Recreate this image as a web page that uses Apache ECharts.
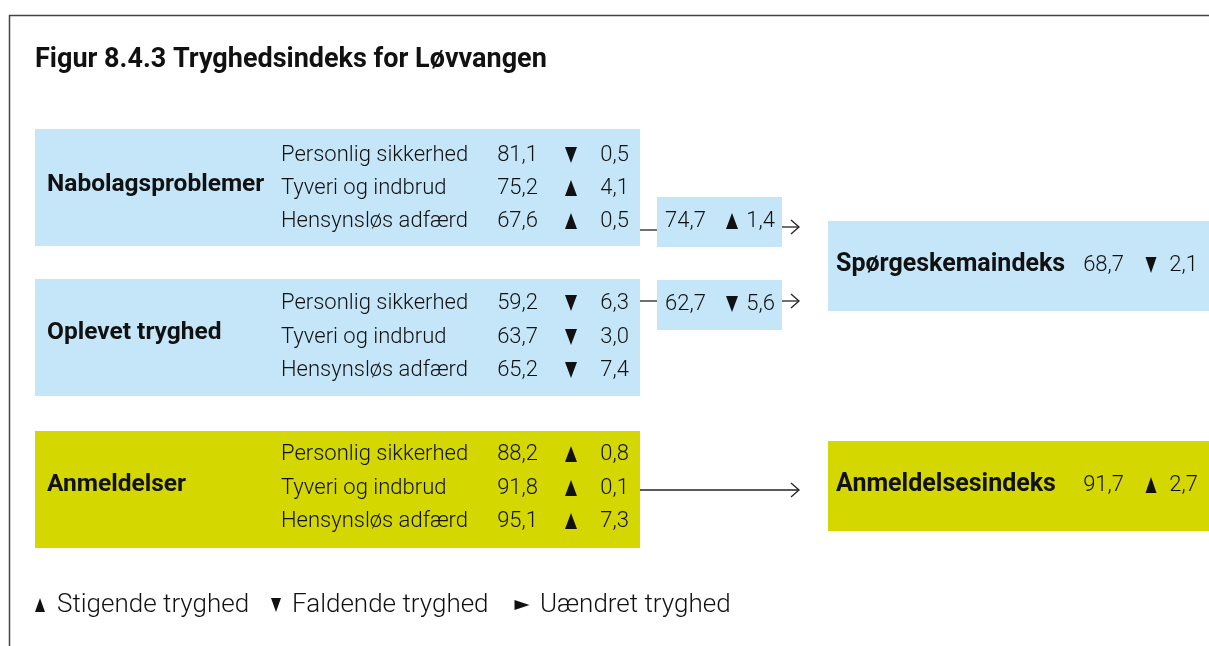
<!DOCTYPE html>
<html>
<head>
<meta charset="utf-8">
<script src="https://cdn.jsdelivr.net/npm/echarts@6/dist/echarts.min.js"></script>
<style>
  html, body { margin: 0; padding: 0; background: #fff; }
  #chart { width: 1209px; height: 646px; }
</style>
</head>
<body>
<div id="chart"></div>
<script>
// data
const title = 'Figur 8.4.3 Tryghedsindeks for Løvvangen';
const groups = ['Nabolagsproblemer', 'Oplevet tryghed', 'Anmeldelser'];
const items = ['Personlig sikkerhed', 'Tyveri og indbrud', 'Hensynsløs adfærd'];
const itemValues = [[81.1, 75.2, 67.6], [59.2, 63.7, 65.2], [88.2, 91.8, 95.1]];
const itemChanges = [[-0.5, 4.1, 0.5], [-6.3, -3.0, -7.4], [0.8, 0.1, 7.3]];
const subValues = [74.7, 62.7];
const subChanges = [1.4, -5.6];
const indexNames = ['Spørgeskemaindeks', 'Anmeldelsesindeks'];
const indexValues = [68.7, 91.7];
const indexChanges = [-2.1, 2.7];
const legendLabels = ['Stigende tryghed', 'Faldende tryghed', 'Uændret tryghed'];

// layout (pixels, drawn through hidden axes)
const W = 1209, H = 646;
const FONT = 'Roboto, "Noto Sans", sans-serif';
const BLUE = '#c5e6f9', YELLOW = '#d4d800', INK = '#111';
const groupBox = [[35, 129, 640, 246], [35, 279, 640, 396], [35, 431, 640, 548]];
const groupColor = [BLUE, BLUE, YELLOW];
const rowY = [[155, 188, 221], [303, 337, 370], [454, 488, 521]];
const groupLabelY = [185, 333, 485];
const subBox = [[657, 197, 782, 247], [657, 280, 782, 330]];
const subTextY = [221, 304];
const indexBox = [[828, 221, 1209, 311], [828, 441, 1209, 531]];
const indexColor = [BLUE, YELLOW];
const indexTextY = [265, 485];
const connectors = [[640, 230, 657, 230], [640, 301, 657, 301]];
const arrows = [[782, 227, 799, 227], [782, 301, 799, 301], [640, 490, 799, 490]];
const legendX = [[40, 57], [276, 292], [522, 540]];
const legendY = 605;

const fmt = v => Math.abs(v).toFixed(1).replace('.', ',');

function txt(api, x, y, s, opt) {
    const p = api.coord([x, y]);
    opt = opt || {};
    return {
        type: 'text', x: p[0], y: p[1],
        style: {
            text: s,
            fill: INK,
            fontSize: opt.size || 22,
            fontFamily: FONT,
            fontWeight: opt.weight || 300,
            align: opt.align || 'left', textAlign: opt.align || 'left',
            verticalAlign: 'middle', textVerticalAlign: 'middle'
        }
    };
}

function tri(api, cx, cy, dir, w, h) {
    const p = api.coord([cx, cy]);
    let pts;
    if (dir > 0) pts = [[p[0] - w / 2, p[1] + h / 2], [p[0] + w / 2, p[1] + h / 2], [p[0], p[1] - h / 2]];
    else if (dir < 0) pts = [[p[0] - w / 2, p[1] - h / 2], [p[0] + w / 2, p[1] - h / 2], [p[0], p[1] + h / 2]];
    else pts = [[p[0] - h / 2, p[1] - w / 2], [p[0] - h / 2, p[1] + w / 2], [p[0] + h / 2, p[1]]];
    return { type: 'polygon', shape: { points: pts }, style: { fill: INK } };
}

function rect(api, b, color) {
    const a = api.coord([b[0], b[1]]), c = api.coord([b[2], b[3]]);
    return { type: 'rect', shape: { x: a[0], y: a[1], width: c[0] - a[0], height: c[1] - a[1] }, style: { fill: color } };
}

function line(api, l, head) {
    const a = api.coord([l[0], l[1]]), c = api.coord([l[2], l[3]]);
    const ch = [{ type: 'line', shape: { x1: a[0], y1: a[1], x2: c[0], y2: c[1] }, style: { stroke: '#222', lineWidth: 1.3 } }];
    if (head) {
        ch.push({ type: 'polyline', shape: { points: [[c[0] - 8, c[1] - 7], [c[0], c[1]], [c[0] - 8, c[1] + 7]] },
                  style: { stroke: '#222', lineWidth: 1.3, fill: null } });
    }
    return { type: 'group', children: ch };
}

const chart = echarts.init(document.getElementById('chart'));

const option = {
    animation: false,
    grid: { left: 0, right: 0, top: 0, bottom: 0 },
    xAxis: { type: 'value', min: 0, max: W, show: false },
    yAxis: { type: 'value', min: 0, max: H, inverse: true, show: false },
    series: [
        {
            // frame, title and legend
            type: 'custom', silent: true, data: [0],
            renderItem: (params, api) => {
                const ch = [];
                const tl = api.coord([9.5, H]), tr = api.coord([9.5, 15.5]), r = api.coord([W, 15.5]);
                ch.push({ type: 'polyline', shape: { points: [tl, tr, r] }, style: { stroke: '#444', lineWidth: 1.5, fill: null } });
                ch.push(txt(api, 35, 60, title, { size: 27, weight: 'bold' }));
                const dirs = [1, -1, 0];
                legendLabels.forEach((l, i) => {
                    ch.push(tri(api, legendX[i][0], legendY, dirs[i], 10, dirs[i] === 0 ? 15 : 14));
                    ch.push(txt(api, legendX[i][1], legendY, l, { size: 26 }));
                });
                return { type: 'group', children: ch };
            }
        },
        {
            // group boxes with item rows
            type: 'custom', silent: true, data: groups.map((g, i) => i),
            renderItem: (params, api) => {
                const gi = params.dataIndex;
                const ch = [rect(api, groupBox[gi], groupColor[gi])];
                ch.push(txt(api, 47, groupLabelY[gi], groups[gi], { size: 24.5, weight: 'bold' }));
                items.forEach((it, j) => {
                    const y = rowY[gi][j];
                    ch.push(txt(api, 281, y, it));
                    ch.push(txt(api, 538, y, fmt(itemValues[gi][j]), { align: 'right' }));
                    ch.push(tri(api, 571, y, Math.sign(itemChanges[gi][j]), 12, 16));
                    ch.push(txt(api, 629, y, fmt(itemChanges[gi][j]), { align: 'right' }));
                });
                return { type: 'group', children: ch };
            }
        },
        {
            // sub indexes
            type: 'custom', silent: true, data: subValues.map((v, i) => i),
            renderItem: (params, api) => {
                const i = params.dataIndex;
                const y = subTextY[i];
                return { type: 'group', children: [
                    rect(api, subBox[i], BLUE),
                    line(api, connectors[i], false),
                    txt(api, 665, y, fmt(subValues[i])),
                    tri(api, 732, y, Math.sign(subChanges[i]), 12, 16),
                    txt(api, 775, y, fmt(subChanges[i]), { align: 'right' })
                ] };
            }
        },
        {
            // arrows
            type: 'custom', silent: true, data: arrows.map((a, i) => i),
            renderItem: (params, api) => line(api, arrows[params.dataIndex], true)
        },
        {
            // final indexes
            type: 'custom', silent: true, data: indexNames.map((n, i) => i),
            renderItem: (params, api) => {
                const i = params.dataIndex;
                const y = indexTextY[i];
                return { type: 'group', children: [
                    rect(api, indexBox[i], indexColor[i]),
                    txt(api, 836, y, indexNames[i], { size: 25, weight: 'bold' }),
                    txt(api, 1124, y, fmt(indexValues[i]), { align: 'right' }),
                    tri(api, 1151, y, Math.sign(indexChanges[i]), 11, 16),
                    txt(api, 1198, y, fmt(indexChanges[i]), { align: 'right' })
                ] };
            }
        }
    ]
};

chart.setOption(option);
</script>
</body>
</html>
